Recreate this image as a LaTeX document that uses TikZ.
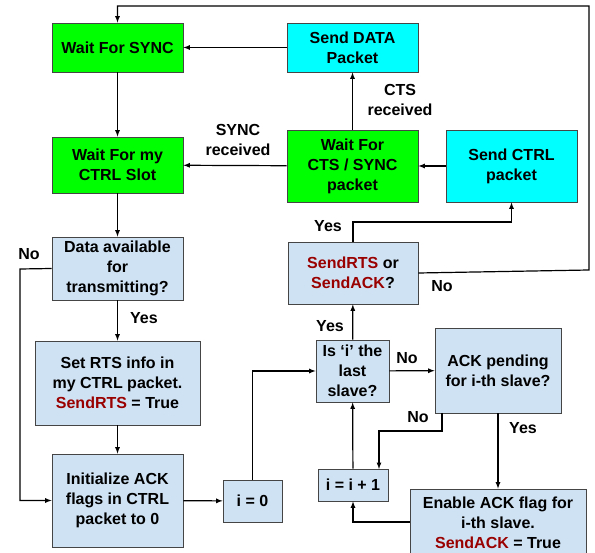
\documentclass[tikz,border=0pt]{standalone}
\usepackage{fontspec}
\setmainfont{Liberation Sans}
\usepackage{xcolor}
\usetikzlibrary{arrows}

\definecolor{boxgreen}{HTML}{00FF00}
\definecolor{boxcyan}{HTML}{00FFFF}
\definecolor{boxblue}{HTML}{CFE2F3}
\definecolor{flagred}{HTML}{990000}
\definecolor{edgegray}{HTML}{454545}
\newcommand{\flag}[1]{\textcolor{flagred}{#1}}

\tikzset{
  blk/.style={draw=edgegray, line width=.8pt, align=center, inner sep=0pt,
    font=\fontsize{16}{20}\selectfont\bfseries},
  gbox/.style={blk, fill=boxgreen},
  cbox/.style={blk, fill=boxcyan},
  bbox/.style={blk, fill=boxblue},
  flow/.style={line width=1.2pt, -latex},
  lbl/.style={align=center, inner sep=0pt, font=\fontsize{16}{20}\selectfont\bfseries}
}

\begin{document}
\begin{tikzpicture}[x=1pt,y=-1pt]
  \useasboundingbox (0,0) rectangle (595,553);

  % states of the slave
  \node[gbox, minimum width=131pt, minimum height=49pt] (sync) at (117.5,47.5) {Wait For SYNC};
  \node[gbox, minimum width=131pt, minimum height=56pt] (slot) at (117.5,165) {Wait For my\\CTRL Slot};
  \node[cbox, minimum width=131pt, minimum height=49pt] (data) at (352.5,47.5) {Send DATA\\Packet};
  \node[gbox, minimum width=131pt, minimum height=72pt] (cts) at (352.5,166) {Wait For\\CTS / SYNC\\packet};
  \node[cbox, minimum width=131pt, minimum height=72pt] (sendctrl) at (511.5,166) {Send CTRL\\packet};

  % building the CTRL packet
  \node[bbox, minimum width=131pt, minimum height=63pt] (avail) at (117.5,268.5) {Data available\\for\\transmitting?};
  \node[bbox, minimum width=165pt, minimum height=84pt] (setrts) at (117.5,383) {Set RTS info in\\my CTRL packet.\\\flag{SendRTS} = True};
  \node[bbox, minimum width=131pt, minimum height=93pt] (init) at (117.5,500.5) {Initialize ACK\\flags in CTRL\\packet to 0};
  \node[bbox, minimum width=59pt, minimum height=42pt] (izero) at (252.5,501) {i = 0};
  \node[bbox, minimum width=130pt, minimum height=62pt] (sendq) at (353,273) {\flag{SendRTS} or\\\flag{SendACK}?};
  \node[bbox, minimum width=73pt, minimum height=62pt] (last) at (352.5,371) {Is `i' the\\last\\slave?};
  \node[bbox, minimum width=126pt, minimum height=85pt] (pending) at (498,370.5) {ACK pending\\for i-th slave?};
  \node[bbox, minimum width=70pt, minimum height=32pt] (incr) at (353,485) {i = i + 1};
  \node[bbox, minimum width=176pt, minimum height=68pt] (enable) at (498,523) {Enable ACK flag for\\i-th slave.\\\flag{SendACK} = True};

  % connectors
  \draw[flow] (data) -- (sync);
  \draw[flow] (sync) -- (slot);
  \draw[flow] (cts) -- (slot);
  \node[lbl] (lsync) at (238,140) {SYNC\\received};
  \draw[flow] (cts) -- (data);
  \node[lbl] (lcts) at (400,100) {CTS\\received};
  \draw[flow] (sendctrl) -- (cts);
  \draw[flow] (slot) -- (avail);
  \draw[flow] (avail) -- (setrts);
  \node[lbl] (lyes1) at (144,318) {Yes};
  \draw[flow] (setrts) -- (init);
  \draw[flow] (avail.west) -- (20,269) |- (init.west);
  \node[lbl] (lno1) at (29,254) {No};
  \draw[flow] (init) -- (izero);
  \draw[flow] (izero.north) |- (last.west);
  \draw[flow] (last) -- (sendq);
  \node[lbl] (lyes2) at (330,326) {Yes};
  \draw[flow] (sendq.north) -- (353,222) -| (sendctrl.south);
  \node[lbl] (lyes3) at (328,226) {Yes};
  \draw[flow] (sendq.east) -- (589,270) -- (589,6) -| (sync.north);
  \node[lbl] (lno2) at (442,286) {No};
  \draw[flow] (last) -- (pending);
  \node[lbl] (lno3) at (407,358) {No};
  \draw[flow] (pending) -- (enable);
  \node[lbl] (lyes4) at (523,428) {Yes};
  \coordinate (pno) at (442,413);
  \draw[flow] (pno) -- (442,431) -| (379,469);
  \node[lbl] (lno4) at (418,417) {No};
  \draw[flow] (enable.west |- 0,522) -| (incr.south);
  \draw[flow] (incr) -- (last);
\end{tikzpicture}
\end{document}
